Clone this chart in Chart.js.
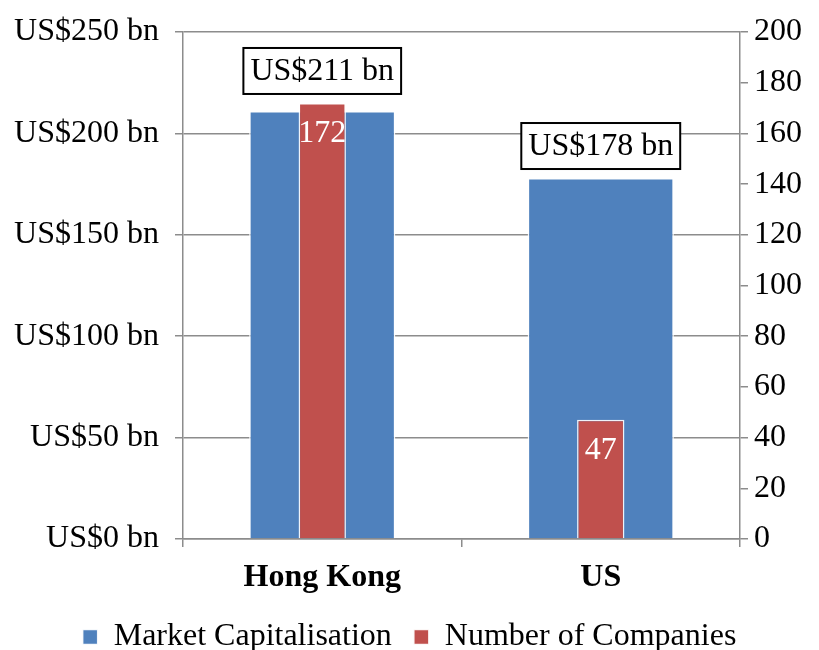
<!DOCTYPE html>
<html>
<head>
<meta charset="utf-8">
<script src="https://cdn.jsdelivr.net/npm/chart.js@4/dist/chart.umd.min.js"></script>
<style>
  body { margin: 0; background: #ffffff; }
  #wrap { width: 819px; height: 650px; }
</style>
</head>
<body>
<div id="wrap"><canvas id="marketChart" width="819" height="650"></canvas></div>
<script>
// Chart data
const categories = ['Hong Kong', 'US'];
const marketCap = [211, 178];        // US$ bn, left axis
const companyCount = [172, 47];      // right axis
const capLabels = ['US$211 bn', 'US$178 bn'];

const FONT = '"Liberation Serif", "Times New Roman", serif';
const GRID = '#8c8c8c';

// Draws the boxed labels above the blue bars and the white numbers in the red bars
const valueLabels = {
    id: 'valueLabels',
    afterDatasetsDraw(chart) {
        const ctx = chart.ctx;
        const capMeta = chart.getDatasetMeta(0);
        const cntMeta = chart.getDatasetMeta(1);
        ctx.save();
        ctx.font = '32px ' + FONT;
        ctx.textAlign = 'center';
        ctx.textBaseline = 'middle';

        capMeta.data.forEach((bar, i) => {
            const topY = Math.min(bar.y, cntMeta.data[i].y);
            const text = capLabels[i];
            const w = ctx.measureText(text).width + 14;
            const h = 46;
            const bottom = topY - 9;
            ctx.fillStyle = '#ffffff';
            ctx.fillRect(bar.x - w / 2, bottom - h, w, h);
            ctx.strokeStyle = '#000000';
            ctx.lineWidth = 2;
            ctx.strokeRect(bar.x - w / 2, bottom - h, w, h);
            ctx.fillStyle = '#000000';
            ctx.fillText(text, bar.x, bottom - h / 2 + 1);
        });

        cntMeta.data.forEach((bar, i) => {
            ctx.fillStyle = '#ffffff';
            ctx.fillText(String(companyCount[i]), bar.x, bar.y + 31);
        });
        ctx.restore();
    }
};

const ctx = document.getElementById('marketChart').getContext('2d');
new Chart(ctx, {
    type: 'bar',
    data: {
        labels: categories,
        datasets: [
            {
                label: 'Market Capitalisation',
                data: marketCap,
                backgroundColor: '#4f81bd',
                borderColor: 'rgba(255,255,255,0.9)',
                borderWidth: 1.5,
                barPercentage: 0.525,
                categoryPercentage: 1,
                grouped: false,
                order: 2,
                yAxisID: 'y'
            },
            {
                label: 'Number of Companies',
                data: companyCount,
                backgroundColor: '#c0504d',
                borderColor: 'rgba(255,255,255,0.9)',
                borderWidth: 1.5,
                barPercentage: 0.17,
                categoryPercentage: 1,
                grouped: false,
                order: 1,
                yAxisID: 'y1'
            }
        ]
    },
    options: {
        responsive: false,
        animation: false,
        devicePixelRatio: 1,
        layout: {
            padding: { top: 0, right: 0, bottom: -13, left: 0 }
        },
        plugins: {
            tooltip: { enabled: false },
            legend: {
                position: 'bottom',
                labels: {
                    font: { family: FONT, size: 32, lineHeight: 1 },
                    color: '#000000',
                    boxWidth: 15,
                    boxHeight: 15,
                    padding: 22,
                    sort: (a, b) => a.datasetIndex - b.datasetIndex
                }
            }
        },
        scales: {
            x: {
                afterFit(scale) { scale.height = 60; },
                grid: {
                    offset: true,
                    drawOnChartArea: false,
                    drawTicks: true,
                    tickLength: 8,
                    color: GRID,
                    lineWidth: 1.5
                },
                border: { color: GRID, width: 1.5 },
                ticks: {
                    font: { family: FONT, size: 32, weight: 'bold' },
                    color: '#000000',
                    padding: 12
                }
            },
            y: {
                position: 'left',
                min: 0,
                max: 250,
                afterFit(scale) { scale.width = 183; },
                grid: {
                    color: GRID,
                    lineWidth: 1.5,
                    tickLength: 8
                },
                border: { color: GRID, width: 1.5 },
                ticks: {
                    stepSize: 50,
                    font: { family: FONT, size: 32, lineHeight: 1 },
                    color: '#000000',
                    padding: 16,
                    callback: value => 'US$' + value + ' bn'
                }
            },
            y1: {
                position: 'right',
                min: 0,
                max: 200,
                afterFit(scale) { scale.width = 79; },
                grid: {
                    drawOnChartArea: false,
                    color: GRID,
                    lineWidth: 1.5,
                    tickLength: 8
                },
                border: { color: GRID, width: 1.5 },
                ticks: {
                    stepSize: 20,
                    font: { family: FONT, size: 32, lineHeight: 1 },
                    color: '#000000',
                    padding: 6
                }
            }
        }
    },
    plugins: [valueLabels]
});
</script>
</body>
</html>
